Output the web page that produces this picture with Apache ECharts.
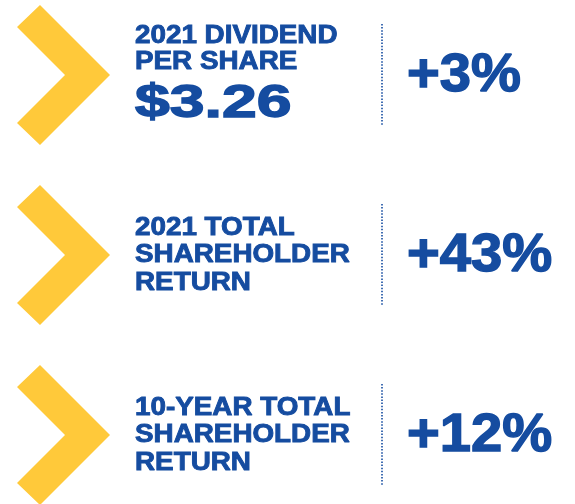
<!DOCTYPE html>
<html>
<head>
<meta charset="utf-8">
<script src="https://cdn.jsdelivr.net/npm/echarts@6/dist/echarts.min.js"></script>
<style>
  html, body { margin: 0; padding: 0; background: #fff; }
  #main { width: 575px; height: 504px; }
</style>
</head>
<body>
<div id="main"></div>
<script>
// rows of the infographic, top to bottom
var titleLines = [
    ['2021 DIVIDEND', 'PER SHARE'],
    ['2021 TOTAL', 'SHAREHOLDER', 'RETURN'],
    ['10-YEAR TOTAL', 'SHAREHOLDER', 'RETURN']
];
var headlineValues = ['$3.26', '', ''];
var changes = ['+3%', '+43%', '+12%'];

var BLUE = '#154ca0';
var YELLOW = '#ffc93a';
var FONT = '"Liberation Sans", Arial, sans-serif';

var chart = echarts.init(document.getElementById('main'), null, {renderer: 'canvas'});

// heavy text: fill plus a thin stroke of the same colour
function heavyText(x, y, txt, size, sx) {
    return {
        type: 'text',
        x: x, y: y,
        scaleX: sx,
        style: {text: txt, x: 0, y: 0, fill: BLUE, stroke: BLUE, lineWidth: size > 40 ? 1.4 : 0.9,
            font: 'bold ' + size + 'px ' + FONT, textAlign: 'left', textVerticalAlign: 'middle'}
    };
}

function renderRow(params, api) {
    var i = api.value(1);
    var cy = api.coord([0, i])[1];
    var children = [];

    // yellow chevron
    children.push({
        type: 'polygon',
        shape: {points: [[40, cy - 70], [110, cy], [40, cy + 70], [17, cy + 48], [65, cy], [17, cy - 48]]},
        style: {fill: YELLOW}
    });

    // title lines (plus the big headline number on the first row)
    var lines = titleLines[i];
    var hasHead = headlineValues[i] !== '';
    var pitch = hasHead ? 25.5 : 27.5;
    var start = hasHead ? -39 : -pitch * (lines.length - 1) / 2;
    lines.forEach(function (t, k) {
        children.push(heavyText(135, cy + start + k * pitch, t, 26, 1.07));
    });
    if (hasHead) {
        children.push(heavyText(135, cy + 29, headlineValues[i], 47, 1.33));
    }

    // dotted separator
    children.push({
        type: 'line',
        shape: {x1: 382, y1: cy - 51, x2: 382, y2: cy + 51},
        style: {stroke: BLUE, lineWidth: 1.6, lineDash: [1.5, 1.6]}
    });

    // change value
    children.push(heavyText(407, cy + 1, changes[i], 53, 1.06));

    return {type: 'group', children: children};
}

chart.setOption({
    animation: false,
    grid: {left: 0, right: 0, top: 0, bottom: 0},
    xAxis: {type: 'value', min: 0, max: 575, show: false},
    // rows sit 180px apart, first row centred at y = 75
    yAxis: {type: 'value', inverse: true, min: -75 / 180, max: 429 / 180, show: false},
    series: [{
        type: 'custom',
        renderItem: renderRow,
        encode: {x: 0, y: 1},
        data: changes.map(function (c, i) { return [0, i]; })
    }]
});
</script>
</body>
</html>
